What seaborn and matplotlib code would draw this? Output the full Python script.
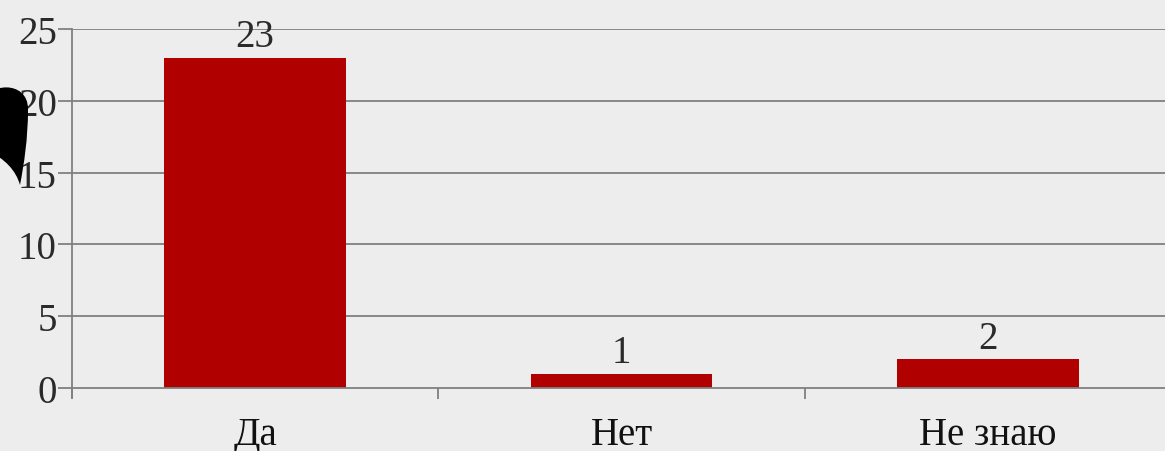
import numpy as np
import pandas as pd
import matplotlib
matplotlib.use("Agg")
from matplotlib import pyplot as plt
from matplotlib.path import Path
from matplotlib.patches import PathPatch
import seaborn as sns

# Survey answers
answers = ["Да", "Нет", "Не знаю"]
counts = [23, 1, 2]
y_ticks = [0, 5, 10, 15, 20, 25]

bg = "#ededed"
bar_color = "#b00000"
line_color = "#808080"
text_color = "#2a2a2a"

sns.set_theme(style="white")
plt.rcParams['font.family'] = ['Liberation Serif', 'DejaVu Serif']

df = pd.DataFrame({"answer": answers, "count": counts})

fig = plt.figure(figsize=(11.65, 4.52), dpi=100, facecolor=bg)
ax = fig.add_axes([72 / 1165, 63 / 452, 1099 / 1165, 359 / 452])
ax.set_facecolor(bg)

sns.barplot(data=df, x="answer", y="count", color=bar_color, width=0.495,
            saturation=1, ax=ax)
for p in ax.patches:
    p.set_edgecolor("none")

ax.bar_label(ax.containers[0], fontsize=28, color=text_color, padding=2)

ax.set_xlim(-0.5, 2.5)
ax.set_ylim(0, 25)
ax.set_yticks(y_ticks)
ax.set_xlabel("")
ax.set_ylabel("")

# gridlines behind the bars
for v in y_ticks[1:]:
    ax.axhline(v, color=line_color, lw=1.3, zorder=0)

for side in ["top", "right"]:
    ax.spines[side].set_visible(False)
for side in ["left", "bottom"]:
    ax.spines[side].set_color(line_color)
    ax.spines[side].set_linewidth(1.3)
ax.spines["left"].set_bounds(-0.6, 25)

ax.tick_params(axis="y", which="major", length=10, width=1.3, color=line_color,
               direction="out", labelsize=28, labelcolor=text_color, pad=1, left=True)
ax.tick_params(axis="x", which="major", length=0, labelsize=28,
               labelcolor="#111111", pad=20)
ax.set_xticks([-0.5, 0.5, 1.5, 2.5], minor=True)
ax.tick_params(axis="x", which="minor", length=8, width=1.3, color=line_color,
               direction="out", bottom=True)

# black teardrop decoration at the left edge
verts = [(-15, 105), (-15, 84), (28, 80), (28, 110),
         (28, 140), (24, 165), (20, 186),
         (16, 172), (6, 160), (-15, 150),
         (-20, 140), (-15, 120), (-15, 105)]
codes = [Path.MOVETO, Path.CURVE4, Path.CURVE4, Path.CURVE4,
         Path.CURVE4, Path.CURVE4, Path.CURVE4,
         Path.CURVE4, Path.CURVE4, Path.CURVE4,
         Path.CURVE4, Path.CURVE4, Path.CURVE4]
verts = [(x / 1165, 1 - y / 452) for x, y in verts]
fig.patches.append(PathPatch(Path(verts, codes), facecolor="black",
                             edgecolor="none", transform=fig.transFigure))

fig.savefig("out.png", dpi=100, facecolor=bg)
